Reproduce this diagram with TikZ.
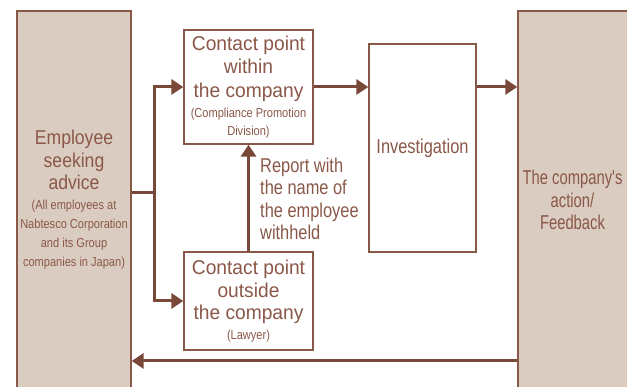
\documentclass[tikz,border=0pt]{standalone}
\usepackage{fontspec}
\setmainfont[FakeStretch=0.88]{Liberation Sans}
\newfontfamily\fwide[FakeStretch=0.96]{Liberation Sans}
\newfontfamily\fmid[FakeStretch=0.88]{Liberation Sans}
\newfontfamily\fnar[FakeStretch=0.82]{Liberation Sans}
\newfontfamily\fcond[FakeStretch=0.74]{Liberation Sans}
\newfontfamily\fsmall[FakeStretch=0.85]{Liberation Sans}
\usetikzlibrary{arrows.meta}
\definecolor{brn}{RGB}{122,72,56}
\definecolor{txt}{RGB}{138,88,72}
\definecolor{tan}{RGB}{219,204,193}
\newcommand{\smalltxt}{\fsmall\fontsize{13}{18.5}\selectfont}
\begin{document}
\begin{tikzpicture}[x=1pt,y=1pt,
  box/.style={draw=txt, line width=1.3pt, inner sep=0pt, align=center, text=txt},
  panel/.style={box, fill=tan},
  flow/.style={draw=brn, line width=3pt},
  arr/.style={flow, -{Triangle[length=12pt,width=15pt]}},
  lbl/.style={inner sep=0pt, text=txt}]
\useasboundingbox (0,0) rectangle (627,387);

% side panels
\node[panel, minimum width=114pt, minimum height=378pt,
      font=\fmid\fontsize{20}{22.5}\selectfont] (emp) at (74,187)
  {Employee\\seeking\\advice\\[-2.5pt]
   \smalltxt (All employees at\\[-3.5pt]\smalltxt Nabtesco Corporation\\[-3.5pt]
   \smalltxt and its Group\\[-3.5pt]\smalltxt companies in Japan)};
\node[panel, minimum width=114pt, minimum height=378pt] (act) at (575,187) {};
\node[lbl, align=center, font=\fcond\fontsize{20}{22.5}\selectfont] (actlbl) at (572.5,187)
  {The company's\\action/\\Feedback};

% middle boxes
\node[box, fill=white, minimum width=129pt, minimum height=114pt,
      font=\fwide\fontsize{20}{23.5}\selectfont] (in) at (248.5,300)
  {Contact point\\within\\the company\\[-3.5pt]
   \smalltxt (Compliance Promotion\\[-5.5pt]\smalltxt Division)};
\node[box, fill=white, minimum width=129pt, minimum height=98pt,
      font=\fwide\fontsize{20}{22.5}\selectfont] (out) at (248.5,86)
  {Contact point\\outside\\the company\\[-3pt]
   \smalltxt (Lawyer)};
\node[box, fill=white, minimum width=107pt, minimum height=208pt,
      font=\fnar\fontsize{20}{23}\selectfont] (inv) at (422.5,239)
  {Investigation};

\node[lbl, align=left, anchor=west, font=\fnar\fontsize{20}{22.5}\selectfont] (rep) at (260,188)
  {Report with\\the name of\\the employee\\withheld};

% connectors
\coordinate (j) at (154,194);
\coordinate (fb) at (300,26);
\draw[flow] (emp.east |- j) -- (j);
\draw[flow, line cap=butt] (j |- in.west) -- (j |- out.west);
\draw[arr] ([xshift=-1.5pt]j |- in.west) -- (in.west);
\draw[arr] ([xshift=-1.5pt]j |- out.west) -- (out.west);
\draw[arr] (out.north) -- (in.south);
\draw[arr] (in.east) -- (in.east -| inv.west);
\draw[arr] (in.east -| inv.east) -- (in.east -| act.west);
\draw[arr] (act.west |- fb) -- (emp.east |- fb);
\end{tikzpicture}
\end{document}
